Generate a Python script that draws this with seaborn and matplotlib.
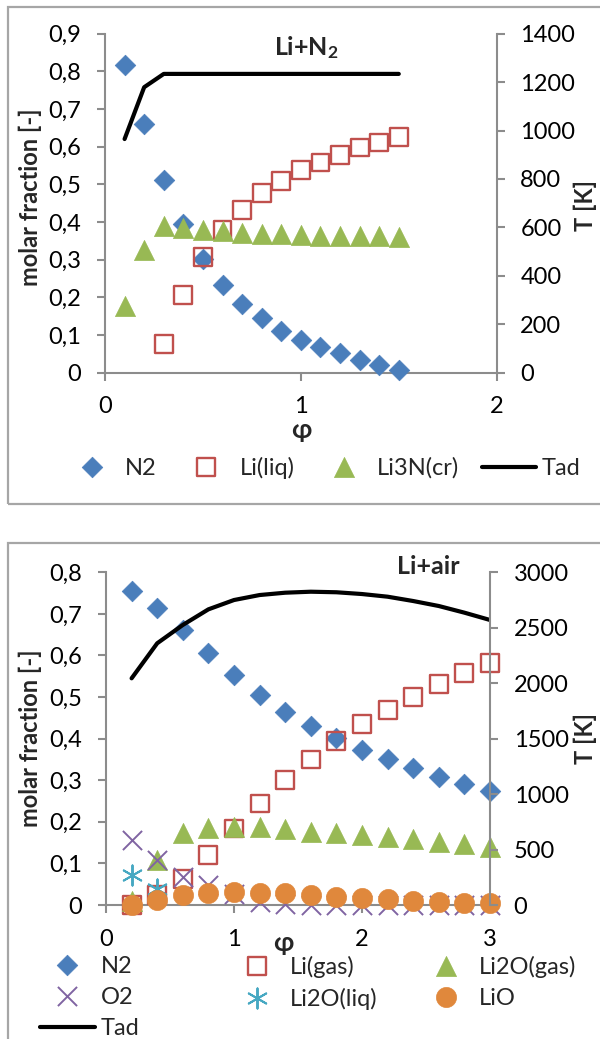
import numpy as np
import matplotlib
matplotlib.use("Agg")
import matplotlib.pyplot as plt
from matplotlib.patches import Rectangle
import seaborn as sns

nan = np.nan

# ---------------- data: Li + N2 ----------------
n2_phi = [0.1, 0.2, 0.3, 0.4, 0.5, 0.6, 0.7, 0.8, 0.9, 1.0, 1.1, 1.2, 1.3, 1.4, 1.5]
n2_N2 = [0.817, 0.660, 0.512, 0.394, 0.302, 0.234, 0.183, 0.145, 0.112, 0.087,
         0.069, 0.052, 0.034, 0.020, 0.008]
n2_Li_liq = [nan, nan, 0.076, 0.207, 0.307, 0.378, 0.432, 0.476, 0.509, 0.538,
             0.558, 0.577, 0.598, 0.611, 0.625]
n2_Li3N = [0.178, 0.325, 0.389, 0.383, 0.378, 0.375, 0.371, 0.369, 0.367, 0.365,
           0.364, 0.362, 0.362, 0.362, 0.361]
n2_Tad = [965, 1179, 1234, 1234, 1234, 1234, 1234, 1234, 1234, 1234,
          1234, 1234, 1234, 1234, 1234]
n2_x_ticks = [0, 1, 2]
n2_y_ticks = [0, 0.1, 0.2, 0.3, 0.4, 0.5, 0.6, 0.7, 0.8, 0.9]
n2_y_labels = ["0", "0,1", "0,2", "0,3", "0,4", "0,5", "0,6", "0,7", "0,8", "0,9"]
n2_T_ticks = [0, 200, 400, 600, 800, 1000, 1200, 1400]

# ---------------- data: Li + air ----------------
air_phi = [0.2, 0.4, 0.6, 0.8, 1.0, 1.2, 1.4, 1.6, 1.8, 2.0, 2.2, 2.4, 2.6, 2.8, 3.0]
air_N2 = [0.756, 0.713, 0.661, 0.605, 0.552, 0.505, 0.463, 0.430, 0.401, 0.373,
          0.350, 0.329, 0.307, 0.290, 0.274]
air_Li_gas = [0.000, 0.024, 0.062, 0.120, 0.184, 0.244, 0.301, 0.350, 0.394, 0.435,
              0.469, 0.501, 0.531, 0.557, 0.581]
air_Li2O_gas = [0.010, 0.108, 0.172, 0.184, 0.188, 0.187, 0.182, 0.176, 0.172, 0.168,
                0.163, 0.158, 0.152, 0.147, 0.140]
air_O2 = [0.156, 0.108, 0.068, 0.048, 0.026, 0.008, 0.003, 0.001, 0.0, 0.0,
          0.0, 0.0, 0.0, 0.0, 0.0]
air_Li2O_liq = [0.072, 0.038, nan, nan, nan, nan, nan, nan, nan, nan,
                nan, nan, nan, nan, nan]
air_LiO = [0.000, 0.012, 0.024, 0.030, 0.032, 0.030, 0.028, 0.024, 0.020, 0.018,
           0.014, 0.010, 0.008, 0.006, 0.004]
air_Tad = [2044, 2360, 2525, 2666, 2750, 2795, 2816, 2825, 2820, 2804,
           2780, 2741, 2696, 2636, 2570]
air_x_ticks = [0, 1, 2, 3]
air_y_ticks = [0, 0.1, 0.2, 0.3, 0.4, 0.5, 0.6, 0.7, 0.8]
air_y_labels = ["0", "0,1", "0,2", "0,3", "0,4", "0,5", "0,6", "0,7", "0,8"]
air_T_ticks = [0, 500, 1000, 1500, 2000, 2500, 3000]

# ---------------- style ----------------
sns.set_theme(style="white")
plt.rcParams["font.family"] = ["Lato", "Open Sans", "DejaVu Sans"]
plt.rcParams["mathtext.fontset"] = "custom"
plt.rcParams["mathtext.bf"] = "Lato:bold"
plt.rcParams["mathtext.rm"] = "Lato"

BLUE = "#4A7EBB"
RED = "#C0504D"
GREEN = "#98B954"
PURPLE = "#8064A2"
TEAL = "#46A8C2"
ORANGE = "#E0883C"
GRAY = "#8C8C8C"
FS = 17

W, H = 600, 1039
fig = plt.figure(figsize=(W / 100, H / 100), dpi=100)


def fx(px):
    return px / W


def fy(py):
    return 1 - py / H


# outer frames
fig.add_artist(Rectangle((fx(7.7), fy(504)), 1.2, (504 - 7.3) / H,
                         transform=fig.transFigure, fill=False, ec="#A6A6A6", lw=1.6))
fig.add_artist(Rectangle((fx(7.7), -0.2), 1.2, fy(542.7) + 0.2,
                         transform=fig.transFigure, fill=False, ec="#A6A6A6", lw=1.6))


def style_axes(ax, ax2, xt, yt, ylabels, tt):
    for s in ["top", "right"]:
        ax.spines[s].set_visible(False)
    for s in ["top", "left", "bottom"]:
        ax2.spines[s].set_visible(False)
    for sp in [ax.spines["left"], ax.spines["bottom"], ax2.spines["right"]]:
        sp.set_color(GRAY)
        sp.set_linewidth(1.5)
    ax.set_xticks(xt)
    ax.set_xticklabels([str(v) for v in xt])
    ax.set_yticks(yt)
    ax.set_yticklabels(ylabels)
    ax2.set_yticks(tt)
    ax2.set_yticklabels([str(v) for v in tt])
    ax.tick_params(axis="x", bottom=True, direction="out", length=6, width=1.5,
                   color=GRAY, pad=11, labelsize=FS, labelcolor="black")
    ax.tick_params(axis="y", left=True, direction="out", length=6, width=1.5,
                   color=GRAY, pad=11, labelsize=FS, labelcolor="black")
    ax2.tick_params(axis="y", right=True, left=False, direction="out", length=6,
                    width=1.5, color=GRAY, pad=11, labelsize=FS, labelcolor="black")
    ax2.tick_params(axis="x", bottom=False, top=False)
    ax.set_facecolor("none")
    ax2.set_facecolor("none")


def scatter(ax, x, y, label, **kw):
    sns.scatterplot(x=x, y=y, ax=ax, label=label, clip_on=False, zorder=3, **kw)


# ================= top panel: Li + N2 =================
ax = fig.add_axes([fx(105), fy(372.7), (496.7 - 105) / W, (372.7 - 33.7) / H])
ax2 = ax.twinx()
scatter(ax, n2_phi, n2_N2, "N2", marker="D", s=110, color=BLUE, edgecolor=BLUE, linewidth=0.5)
scatter(ax, n2_phi, n2_Li_liq, "Li(liq)", marker="s", s=165, color=RED,
        facecolor="none", edgecolor=RED, linewidth=1.7)
scatter(ax, n2_phi, n2_Li3N, "Li3N(cr)", marker="^", s=210, color=GREEN,
        edgecolor=GREEN, linewidth=0.5)
sns.lineplot(x=n2_phi, y=n2_Tad, ax=ax2, color="black", lw=3, label="Tad")
ax.set_xlim(0, 2)
ax.set_ylim(0, 0.9)
ax2.set_ylim(0, 1400)
style_axes(ax, ax2, n2_x_ticks, n2_y_ticks, n2_y_labels, n2_T_ticks)
ax.set_xlabel("φ", fontsize=FS + 2, fontweight="bold", va="center")
ax.xaxis.set_label_coords(0.5, -0.169)
ax.set_ylabel("molar fraction [-]", fontsize=FS, fontweight="bold", va="center")
ax.yaxis.set_label_coords(-0.19, 0.519)
ax2.set_ylabel("T [K]", fontsize=FS, fontweight="bold", va="center", rotation=90)
ax2.yaxis.set_label_coords(1.227, 0.493)
ax.text(0.513, 0.959, r"$\mathbf{Li{+}N_2}$", transform=ax.transAxes,
        ha="center", va="center", fontsize=FS + 1)

h1, l1 = ax.get_legend_handles_labels()
h2, l2 = ax2.get_legend_handles_labels()
for a in (ax, ax2):
    if a.get_legend() is not None:
        a.get_legend().remove()
fig.legend(h1 + h2, l1 + l2, loc="center left", bbox_to_anchor=(fx(65), fy(468)),
           ncol=4, frameon=False, fontsize=FS, borderpad=0, borderaxespad=0,
           handlelength=2.3, handletextpad=0.25, columnspacing=0.95,
           scatterpoints=1, scatteryoffsets=[0.5])

# ================= bottom panel: Li + air =================
bx = fig.add_axes([fx(106), fy(905), (490 - 106) / W, (905 - 572.3) / H])
bx2 = bx.twinx()
scatter(bx, air_phi, air_N2, "N2", marker="D", s=110, color=BLUE, edgecolor=BLUE, linewidth=0.5)
scatter(bx, air_phi, air_Li_gas, "Li(gas)", marker="s", s=165, color=RED,
        facecolor="none", edgecolor=RED, linewidth=1.7)
scatter(bx, air_phi, air_Li2O_gas, "Li2O(gas)", marker="^", s=210, color=GREEN,
        edgecolor=GREEN, linewidth=0.5)
scatter(bx, air_phi, air_O2, "O2", marker="x", s=190, color=PURPLE, linewidth=1.4)
scatter(bx, air_phi, air_Li2O_liq, "Li2O(liq)", marker=(6, 2, 0), s=210, color=TEAL,
        edgecolor=TEAL, linewidth=1.4)
scatter(bx, air_phi, air_LiO, "LiO", marker="o", s=210, color=ORANGE,
        edgecolor=ORANGE, linewidth=0.5)
sns.lineplot(x=air_phi, y=air_Tad, ax=bx2, color="black", lw=3, label="Tad")
bx.set_xlim(0, 3)
bx.set_ylim(0, 0.8)
bx2.set_ylim(0, 3000)
style_axes(bx, bx2, air_x_ticks, air_y_ticks, air_y_labels, air_T_ticks)
bx.set_xlabel("φ", fontsize=FS + 2, fontweight="bold", va="center")
bx.xaxis.set_label_coords(0.461, -0.114)
bx.set_ylabel("molar fraction [-]", fontsize=FS, fontweight="bold", va="center")
bx.yaxis.set_label_coords(-0.196, 0.5)
bx2.set_ylabel("T [K]", fontsize=FS, fontweight="bold", va="center", rotation=90)
bx2.yaxis.set_label_coords(1.249, 0.499)
bx.text(0.839, 1.017, "Li+air", transform=bx.transAxes, ha="center", va="center",
        fontsize=FS + 1, fontweight="bold")

hb, lb = bx.get_legend_handles_labels()
hb2, lb2 = bx2.get_legend_handles_labels()
for a in (bx, bx2):
    if a.get_legend() is not None:
        a.get_legend().remove()
hmap = dict(zip(lb + lb2, hb + hb2))
columns = [(["N2", "O2", "Tad"], 40.2), (["Li(gas)", "Li2O(liq)"], 229.6),
           (["Li2O(gas)", "LiO"], 419.0)]
for names, x0 in columns:
    fig.legend([hmap[n] for n in names], names, loc="upper left",
               bbox_to_anchor=(fx(x0), fy(956)), ncol=1, frameon=False, fontsize=FS,
               borderpad=0, borderaxespad=0, handlelength=2.3, handletextpad=0.25,
               labelspacing=0.42, scatterpoints=1, scatteryoffsets=[0.5])

fig.savefig("out.png", dpi=100)
